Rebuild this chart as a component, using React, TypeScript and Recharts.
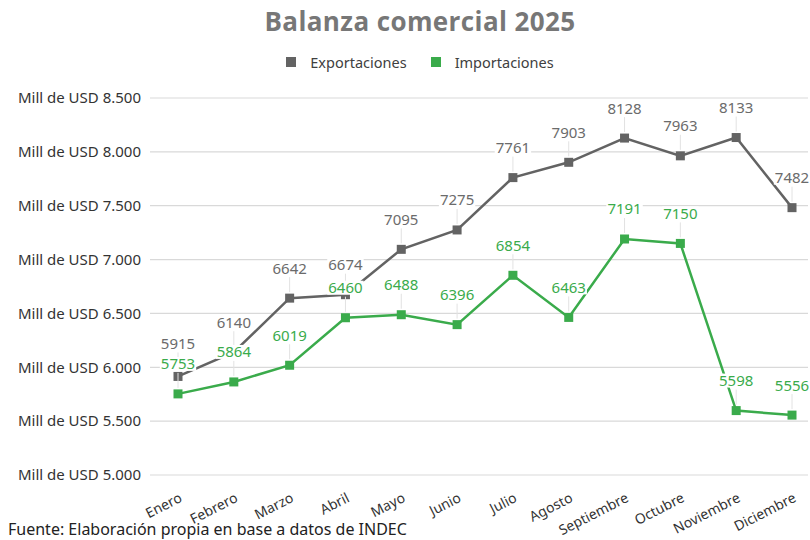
import React from 'react';
import { LineChart, Line, XAxis, YAxis, CartesianGrid, LabelList } from 'recharts';

// Valores mensuales en millones de USD (INDEC)
const meses = ['Enero', 'Febrero', 'Marzo', 'Abril', 'Mayo', 'Junio', 'Julio', 'Agosto', 'Septiembre', 'Octubre', 'Noviembre', 'Diciembre'];
const exportaciones = [5915, 6140, 6642, 6674, 7095, 7275, 7761, 7903, 8128, 7963, 8133, 7482];
const importaciones = [5753, 5864, 6019, 6460, 6488, 6396, 6854, 6463, 7191, 7150, 5598, 5556];
const yTicks = [5000, 5500, 6000, 6500, 7000, 7500, 8000, 8500];

const GRIS = '#636363';
const VERDE = '#3aab4b';
const FONT = '"Noto Sans", "Open Sans", sans-serif';

const data = meses.map((mes, i) => ({
  mes,
  exportaciones: exportaciones[i],
  importaciones: importaciones[i],
}));

const formatTick = (v: number) => {
  const miles = Math.floor(v / 1000);
  const resto = String(v % 1000).padStart(3, '0');
  return `Mill de USD ${miles}.${resto}`;
};

const SquareDot = (color: string) => (props: any) => {
  const { cx, cy, index } = props;
  if (cx == null || cy == null) return null;
  return <rect key={index} x={cx - 4.5} y={cy - 4.5} width={9} height={9} fill={color} />;
};

// etiqueta con fondo blanco y línea guía hasta el punto
const makeLabel = (color: string, lift: (i: number) => number) => (props: any) => {
  const { x, y, value, index } = props;
  if (x == null || y == null) return null;
  const txt = String(value);
  const w = txt.length * 8.6 + 2;
  const ty = y - lift(index);
  return (
    <g key={index}>
      <line x1={x} x2={x} y1={ty - 21} y2={y - 6} stroke="#e2e2e2" strokeWidth={1} />
      <rect x={x - w / 2} y={ty - 37} width={w} height={14} fill="#fff" />
      <text x={x} y={ty - 24.5} textAnchor="middle" fill={color} fontSize={15} fontFamily={FONT}>
        {txt}
      </text>
    </g>
  );
};

const XTick = (props: any) => {
  const { x, y, payload } = props;
  return (
    <g transform={`translate(${x + 5},${y + 18})`}>
      <text textAnchor="end" transform="rotate(-27)" fill="#333" fontSize={14} fontFamily={FONT}>
        {payload.value}
      </text>
    </g>
  );
};

export default function App() {
  return (
    <div style={{ position: 'absolute', left: 0, top: 0, width: 810, height: 540, background: '#fff', fontFamily: FONT }}>
      <div style={{ position: 'absolute', top: 3, left: 0, width: 840, textAlign: 'center', fontSize: 26, fontWeight: 700, letterSpacing: 0.4, color: '#777', fontFamily: '"Open Sans", sans-serif' }}>
        Balanza comercial 2025
      </div>
      <div style={{ position: 'absolute', top: 52, left: 0, width: 840, display: 'flex', justifyContent: 'center', gap: 24, fontSize: 14.5, color: '#404040' }}>
        <span style={{ display: 'flex', alignItems: 'center' }}>
          <span style={{ width: 10, height: 10, background: GRIS, marginRight: 14, display: 'inline-block' }} />
          Exportaciones
        </span>
        <span style={{ display: 'flex', alignItems: 'center' }}>
          <span style={{ width: 10, height: 10, background: VERDE, marginRight: 14, display: 'inline-block' }} />
          Importaciones
        </span>
      </div>
      <div style={{ position: 'absolute', left: 0, top: 0 }}>
        <LineChart width={810} height={540} data={data} margin={{ top: 98, right: 2, bottom: 15, left: 0 }}>
          <CartesianGrid vertical={false} stroke="#d9d9d9" strokeWidth={1.2} />
          <XAxis
            dataKey="mes"
            interval={0}
            height={50}
            padding={{ left: 28, right: 16 }}
            axisLine={false}
            tickLine={false}
            tick={<XTick />}
          />
          <YAxis
            width={150}
            domain={[5000, 8500]}
            ticks={yTicks}
            tickFormatter={formatTick}
            axisLine={false}
            tickLine={false}
            tickSize={0}
            tickMargin={9}
            tick={{ fill: '#333', fontSize: 15, fontFamily: FONT }}
          />
          <Line
            type="linear"
            dataKey="exportaciones"
            stroke={GRIS}
            strokeWidth={2.5}
            dot={SquareDot(GRIS)}
            activeDot={false}
            isAnimationActive={false}
          >
            <LabelList dataKey="exportaciones" content={makeLabel('#6b6b6b', (i) => (i === 0 ? 3 : 0))} />
          </Line>
          <Line
            type="linear"
            dataKey="importaciones"
            stroke={VERDE}
            strokeWidth={2.5}
            dot={SquareDot(VERDE)}
            activeDot={false}
            isAnimationActive={false}
          >
            <LabelList dataKey="importaciones" content={makeLabel(VERDE, () => 0)} />
          </Line>
        </LineChart>
      </div>
      <div style={{ position: 'absolute', left: 8, top: 518, fontSize: 16, color: '#222' }}>
        Fuente: Elaboración propia en base a datos de INDEC
      </div>
    </div>
  );
}
